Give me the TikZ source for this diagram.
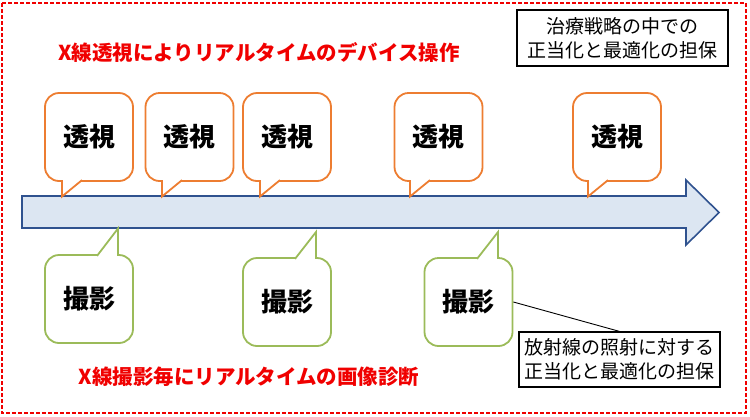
\documentclass[tikz,border=0pt]{standalone}
\usepackage{fontspec}
\setmainfont{Noto Sans CJK JP}
\usetikzlibrary{calc}

\definecolor{fluoroorange}{RGB}{237,125,49}
\definecolor{shotgreen}{RGB}{155,187,89}
\definecolor{arrowfill}{RGB}{220,230,242}
\definecolor{arrowedge}{RGB}{47,82,143}
\definecolor{notered}{RGB}{240,0,0}

\tikzset{
  callout/.style={minimum width=88pt, minimum height=88pt, inner sep=0pt,
    rounded corners=14pt, line width=1.8pt, fill=white,
    font=\fontsize{26}{30}\selectfont\bfseries},
  fluoro/.style={callout, draw=fluoroorange},
  shot/.style={callout, draw=shotgreen},
  tail/.style={line width=1.8pt, line join=miter},
  redtitle/.style={text=notered, font=\fontsize{20.5}{24}\selectfont\bfseries},
  notebox/.style={draw, line width=1.2pt, align=center, inner sep=0pt,
    font=\fontsize{19}{24}\selectfont},
}

\begin{document}
\begin{tikzpicture}[x=1pt, y=-1pt]
        \useasboundingbox (0,0) rectangle (750,416);
        \draw[notered, line width=2.4pt, dash pattern=on 4pt off 2pt] (2,3) rectangle (746,413);

        % time line
        \draw[arrowedge, fill=arrowfill, line width=1.6pt]
            (22,196) -- (686,196) -- (686,180) -- (719,212.5) -- (686,245) -- (686,228) -- (22,228) -- cycle;

        \node[redtitle] (fluorotitle) at (259,52) {X線透視によりリアルタイムのデバイス操作};
        \node[redtitle] (shottitle) at (249,377) {X線撮影毎にリアルタイムの画像診断};

        % fluoroscopy callouts
        \node[fluoro] (f1) at (89,137) {透視};
        \node[fluoro] (f2) at (189.5,137) {透視};
        \node[fluoro] (f3) at (287,137) {透視};
        \node[fluoro] (f4) at (438.5,137) {透視};
        \node[fluoro] (f5) at (617,137) {透視};
        \coordinate (f1tip) at (62,196.5);
        \coordinate (f2tip) at (162,196.5);
        \coordinate (f3tip) at (260,196.5);
        \coordinate (f4tip) at (410,196.5);
        \coordinate (f5tip) at (588,196.5);
        \fill[white] (63,179) rectangle (81,183);
        \fill[white] (163,179) rectangle (181,183);
        \fill[white] (261,179) rectangle (279,183);
        \fill[white] (411,179) rectangle (429,183);
        \fill[white] (589,179) rectangle (607,183);
        \draw[tail, fluoroorange] (62,180.1) -- (f1tip) -- (82,180.1);
        \draw[tail, fluoroorange] (162,180.1) -- (f2tip) -- (182,180.1);
        \draw[tail, fluoroorange] (260,180.1) -- (f3tip) -- (280,180.1);
        \draw[tail, fluoroorange] (410,180.1) -- (f4tip) -- (430,180.1);
        \draw[tail, fluoroorange] (588,180.1) -- (f5tip) -- (608,180.1);

        % radiography callouts
        \node[shot] (s1) at (89,299) {撮影};
        \node[shot] (s2) at (287,302) {撮影};
        \node[shot] (s3) at (468.5,302) {撮影};
        \coordinate (s1tip) at (118,228.5);
        \coordinate (s2tip) at (316,232);
        \coordinate (s3tip) at (498,232);
        \fill[white] (98,253) rectangle (117,257);
        \fill[white] (296,256) rectangle (315,260);
        \fill[white] (478,256) rectangle (497,260);
        \draw[tail, shotgreen] (97,255.9) -- (s1tip) -- (118,255.9);
        \draw[tail, shotgreen] (295,258.9) -- (s2tip) -- (316,258.9);
        \draw[tail, shotgreen] (477,258.9) -- (s3tip) -- (498,258.9);

        % notes
        \node[notebox, minimum width=211pt, minimum height=56pt] (goalnote) at (622.5,38)
            {治療戦略の中での\\正当化と最適化の担保};
        \node[notebox, minimum width=201pt, minimum height=55pt, fill=white] (exposurenote) at (619.5,359.5)
            {放射線の照射に対する\\正当化と最適化の担保};

        \draw[line width=0.9pt] (s3.east) -- (exposurenote.north);
    \end{tikzpicture}
\end{document}
